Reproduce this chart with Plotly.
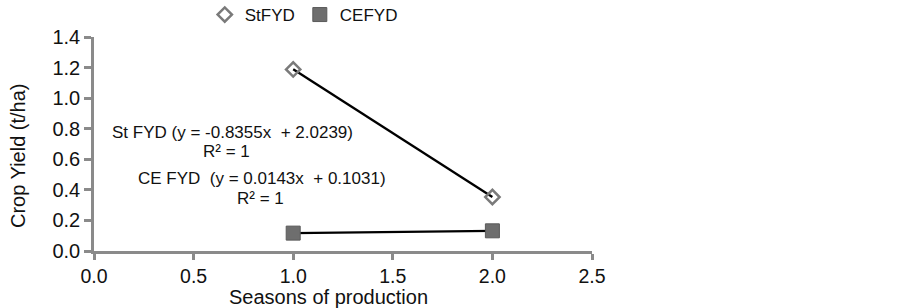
import plotly.graph_objects as go

seasons = [1, 2]
st_fyd = [1.188, 0.353]
ce_fyd = [0.117, 0.132]
st_trend = (-0.8355, 2.0239)
ce_trend = (0.0143, 0.1031)
x_ticks = [0.0, 0.5, 1.0, 1.5, 2.0, 2.5]
y_ticks = [0.0, 0.2, 0.4, 0.6, 0.8, 1.0, 1.2, 1.4]

FONT = "Liberation Sans, Arial, sans-serif"
TXT = "#111111"
AX = "#8a8a8a"

fig = go.Figure()
fig.add_trace(go.Scatter(
    x=seasons, y=[st_trend[0] * s + st_trend[1] for s in seasons],
    mode="lines", line=dict(color="black", width=2.3), showlegend=False, hoverinfo="skip"))
fig.add_trace(go.Scatter(
    x=seasons, y=[ce_trend[0] * s + ce_trend[1] for s in seasons],
    mode="lines", line=dict(color="black", width=2.3), showlegend=False, hoverinfo="skip"))
fig.add_trace(go.Scatter(
    x=seasons, y=st_fyd, mode="markers", name="StFYD",
    marker=dict(symbol="diamond-open", size=11, color="#7a7a7a", line=dict(width=2.5, color="#7a7a7a"))))
fig.add_trace(go.Scatter(
    x=seasons, y=ce_fyd, mode="markers", name="CEFYD",
    marker=dict(symbol="square", size=14, color="#6e6e6e", line=dict(width=1, color="#5a5a5a"))))

ann_font = dict(family=FONT, size=17, color=TXT)
fig.add_annotation(x=0.695, y=0.774, xref="x", yref="y", text="St FYD (y = -0.8355x  + 2.0239)",
                   showarrow=False, font=ann_font)
fig.add_annotation(x=0.665, y=0.65, xref="x", yref="y", text="R² = 1",
                   showarrow=False, font=ann_font)
fig.add_annotation(x=0.841, y=0.472, xref="x", yref="y", text="CE FYD  (y = 0.0143x  + 0.1031)",
                   showarrow=False, font=ann_font)
fig.add_annotation(x=0.836, y=0.341, xref="x", yref="y", text="R² = 1",
                   showarrow=False, font=ann_font)

# axis titles
fig.add_annotation(x=0.4714, y=0, xref="paper", yref="paper", xanchor="center", yanchor="middle",
                   yshift=-46, text="Seasons of production", showarrow=False,
                   font=dict(family=FONT, size=20, color=TXT))
fig.add_annotation(x=0, y=0.444, xref="paper", yref="paper", xanchor="center", yanchor="middle",
                   xshift=-76, textangle=-90, text="Crop Yield (t/ha)", showarrow=False,
                   font=dict(family=FONT, size=20, color=TXT))

fig.update_layout(
    width=902, height=308,
    margin=dict(l=94, r=310, t=37, b=57, autoexpand=False),
    paper_bgcolor="white", plot_bgcolor="white",
    font=dict(family=FONT, size=20, color=TXT),
    legend=dict(orientation="h", xref="container", yref="container",
                x=0.227, y=1 - 15 / 308, xanchor="left", yanchor="middle",
                font=dict(family=FONT, size=17, color=TXT), itemwidth=30, tracegroupgap=0,
                bgcolor="rgba(0,0,0,0)"),
    xaxis=dict(range=[0, 2.5], tickvals=x_ticks, ticktext=[f"{v:.1f}" for v in x_ticks],
               showgrid=False, zeroline=False, showline=True, linecolor=AX, linewidth=2.5,
               ticks="outside", ticklen=6, tickwidth=2.5, tickcolor=AX, automargin=False,
               tickfont=dict(family=FONT, size=19.5, color=TXT)),
    yaxis=dict(range=[0, 1.4], tickvals=y_ticks, ticktext=[f"{v:.1f}" for v in y_ticks],
               showgrid=False, zeroline=False, showline=True, linecolor=AX, linewidth=2.5,
               ticks="outside", ticklen=7, tickwidth=2.5, tickcolor=AX, automargin=False,
               tickfont=dict(family=FONT, size=20, color=TXT)),
)
fig.write_html("out.html", config={"displayModeBar": False},
               post_script="document.body.style.margin='0px';document.body.style.padding='0px';")
